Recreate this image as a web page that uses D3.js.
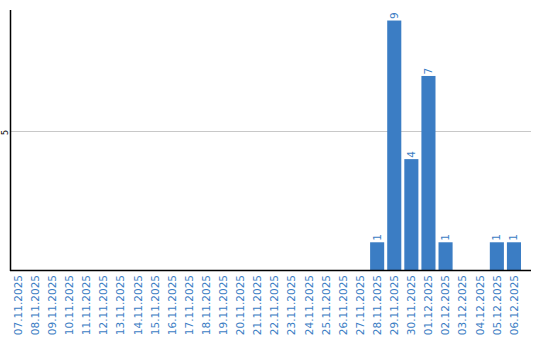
<!DOCTYPE html>
<html>
<head>
<meta charset="utf-8">
<script src="https://cdn.jsdelivr.net/npm/d3@7"></script>
<style>
  body { margin: 0; background: #fff; }
  svg { display: block; font-family: "DejaVu Sans", Verdana, sans-serif; }
</style>
</head>
<body>
<div id="chart"></div>
<script>
// day labels and counts
var days = ["07.11.2025", "08.11.2025", "09.11.2025", "10.11.2025", "11.11.2025",
    "12.11.2025", "13.11.2025", "14.11.2025", "15.11.2025", "16.11.2025",
    "17.11.2025", "18.11.2025", "19.11.2025", "20.11.2025", "21.11.2025",
    "22.11.2025", "23.11.2025", "24.11.2025", "25.11.2025", "26.11.2025",
    "27.11.2025", "28.11.2025", "29.11.2025", "30.11.2025", "01.12.2025",
    "02.12.2025", "03.12.2025", "04.12.2025", "05.12.2025", "06.12.2025"];
var counts = [0, 0, 0, 0, 0, 0, 0, 0, 0, 0,
    0, 0, 0, 0, 0, 0, 0, 0, 0, 0,
    0, 1, 9, 4, 7, 1, 0, 0, 1, 1];
var yTicks = [5];

var width = 540, height = 340;
var plot = {left: 11, top: 10, bottom: 270, right: 531};
var barColor = "#3b7dc4";

var svg = d3.select("#chart").append("svg")
    .attr("width", width)
    .attr("height", height);

var x = d3.scaleBand()
    .domain(days)
    .range([plot.left, plot.left + days.length * 17])
    .paddingInner(3 / 17)
    .paddingOuter(0)
    .align(0);

var y = d3.scaleLinear()
    .domain([0, 9.38])
    .range([plot.bottom, plot.top]);

// grid lines
svg.append("g").selectAll("line")
    .data(yTicks)
    .enter().append("line")
    .attr("x1", plot.left)
    .attr("x2", plot.right)
    .attr("y1", function(d) { return Math.round(y(d)) + 0.5; })
    .attr("y2", function(d) { return Math.round(y(d)) + 0.5; })
    .attr("stroke", "#c8c8c8")
    .attr("stroke-width", 1);

// y tick labels, turned on their side
svg.append("g").selectAll("text")
    .data(yTicks)
    .enter().append("text")
    .attr("transform", function(d) { return "translate(7.5," + (y(d) + 1) + ") rotate(-90)"; })
    .attr("text-anchor", "middle")
    .attr("font-size", "8px")
    .attr("fill", "#000")
    .text(function(d) { return d; });

var data = days.map(function(d, i) { return {day: d, n: counts[i]}; });

// bars
svg.append("g").selectAll("rect")
    .data(data.filter(function(d) { return d.n > 0; }))
    .enter().append("rect")
    .attr("x", function(d) { return x(d.day); })
    .attr("width", x.bandwidth())
    .attr("y", function(d) { return y(d.n); })
    .attr("height", function(d) { return y(0) - y(d.n); })
    .attr("fill", barColor);

// value labels above bars
svg.append("g").selectAll("text")
    .data(data.filter(function(d) { return d.n > 0; }))
    .enter().append("text")
    .attr("transform", function(d) {
        return "translate(" + (x(d.day) + x.bandwidth() / 2 + 3.5) + "," + (y(d.n) - 1.5) + ") rotate(-90)";
    })
    .attr("text-anchor", "start")
    .attr("font-size", "10.5px")
    .attr("fill", barColor)
    .text(function(d) { return d.n; });

// x axis with rotated day labels
var xAxis = d3.axisBottom(x).tickSize(0).tickPadding(0);
var gx = svg.append("g")
    .attr("transform", "translate(0," + plot.bottom + ")")
    .call(xAxis);
gx.select(".domain").remove();
gx.selectAll("text")
    .attr("transform", "translate(3.8,5) rotate(-90)")
    .attr("x", 0)
    .attr("y", 0)
    .attr("dy", 0)
    .attr("text-anchor", "end")
    .attr("font-size", "10.5px")
    .attr("font-family", "\"DejaVu Sans\", Verdana, sans-serif")
    .attr("fill", barColor);

// axis lines
svg.append("line")
    .attr("x1", plot.left - 0.5).attr("x2", plot.left - 0.5)
    .attr("y1", plot.top).attr("y2", plot.bottom + 1)
    .attr("stroke", "#000").attr("stroke-width", 1.5);
svg.append("line")
    .attr("x1", plot.left - 1).attr("x2", plot.right)
    .attr("y1", plot.bottom + 0.5).attr("y2", plot.bottom + 0.5)
    .attr("stroke", "#000").attr("stroke-width", 1.5);
</script>
</body>
</html>
